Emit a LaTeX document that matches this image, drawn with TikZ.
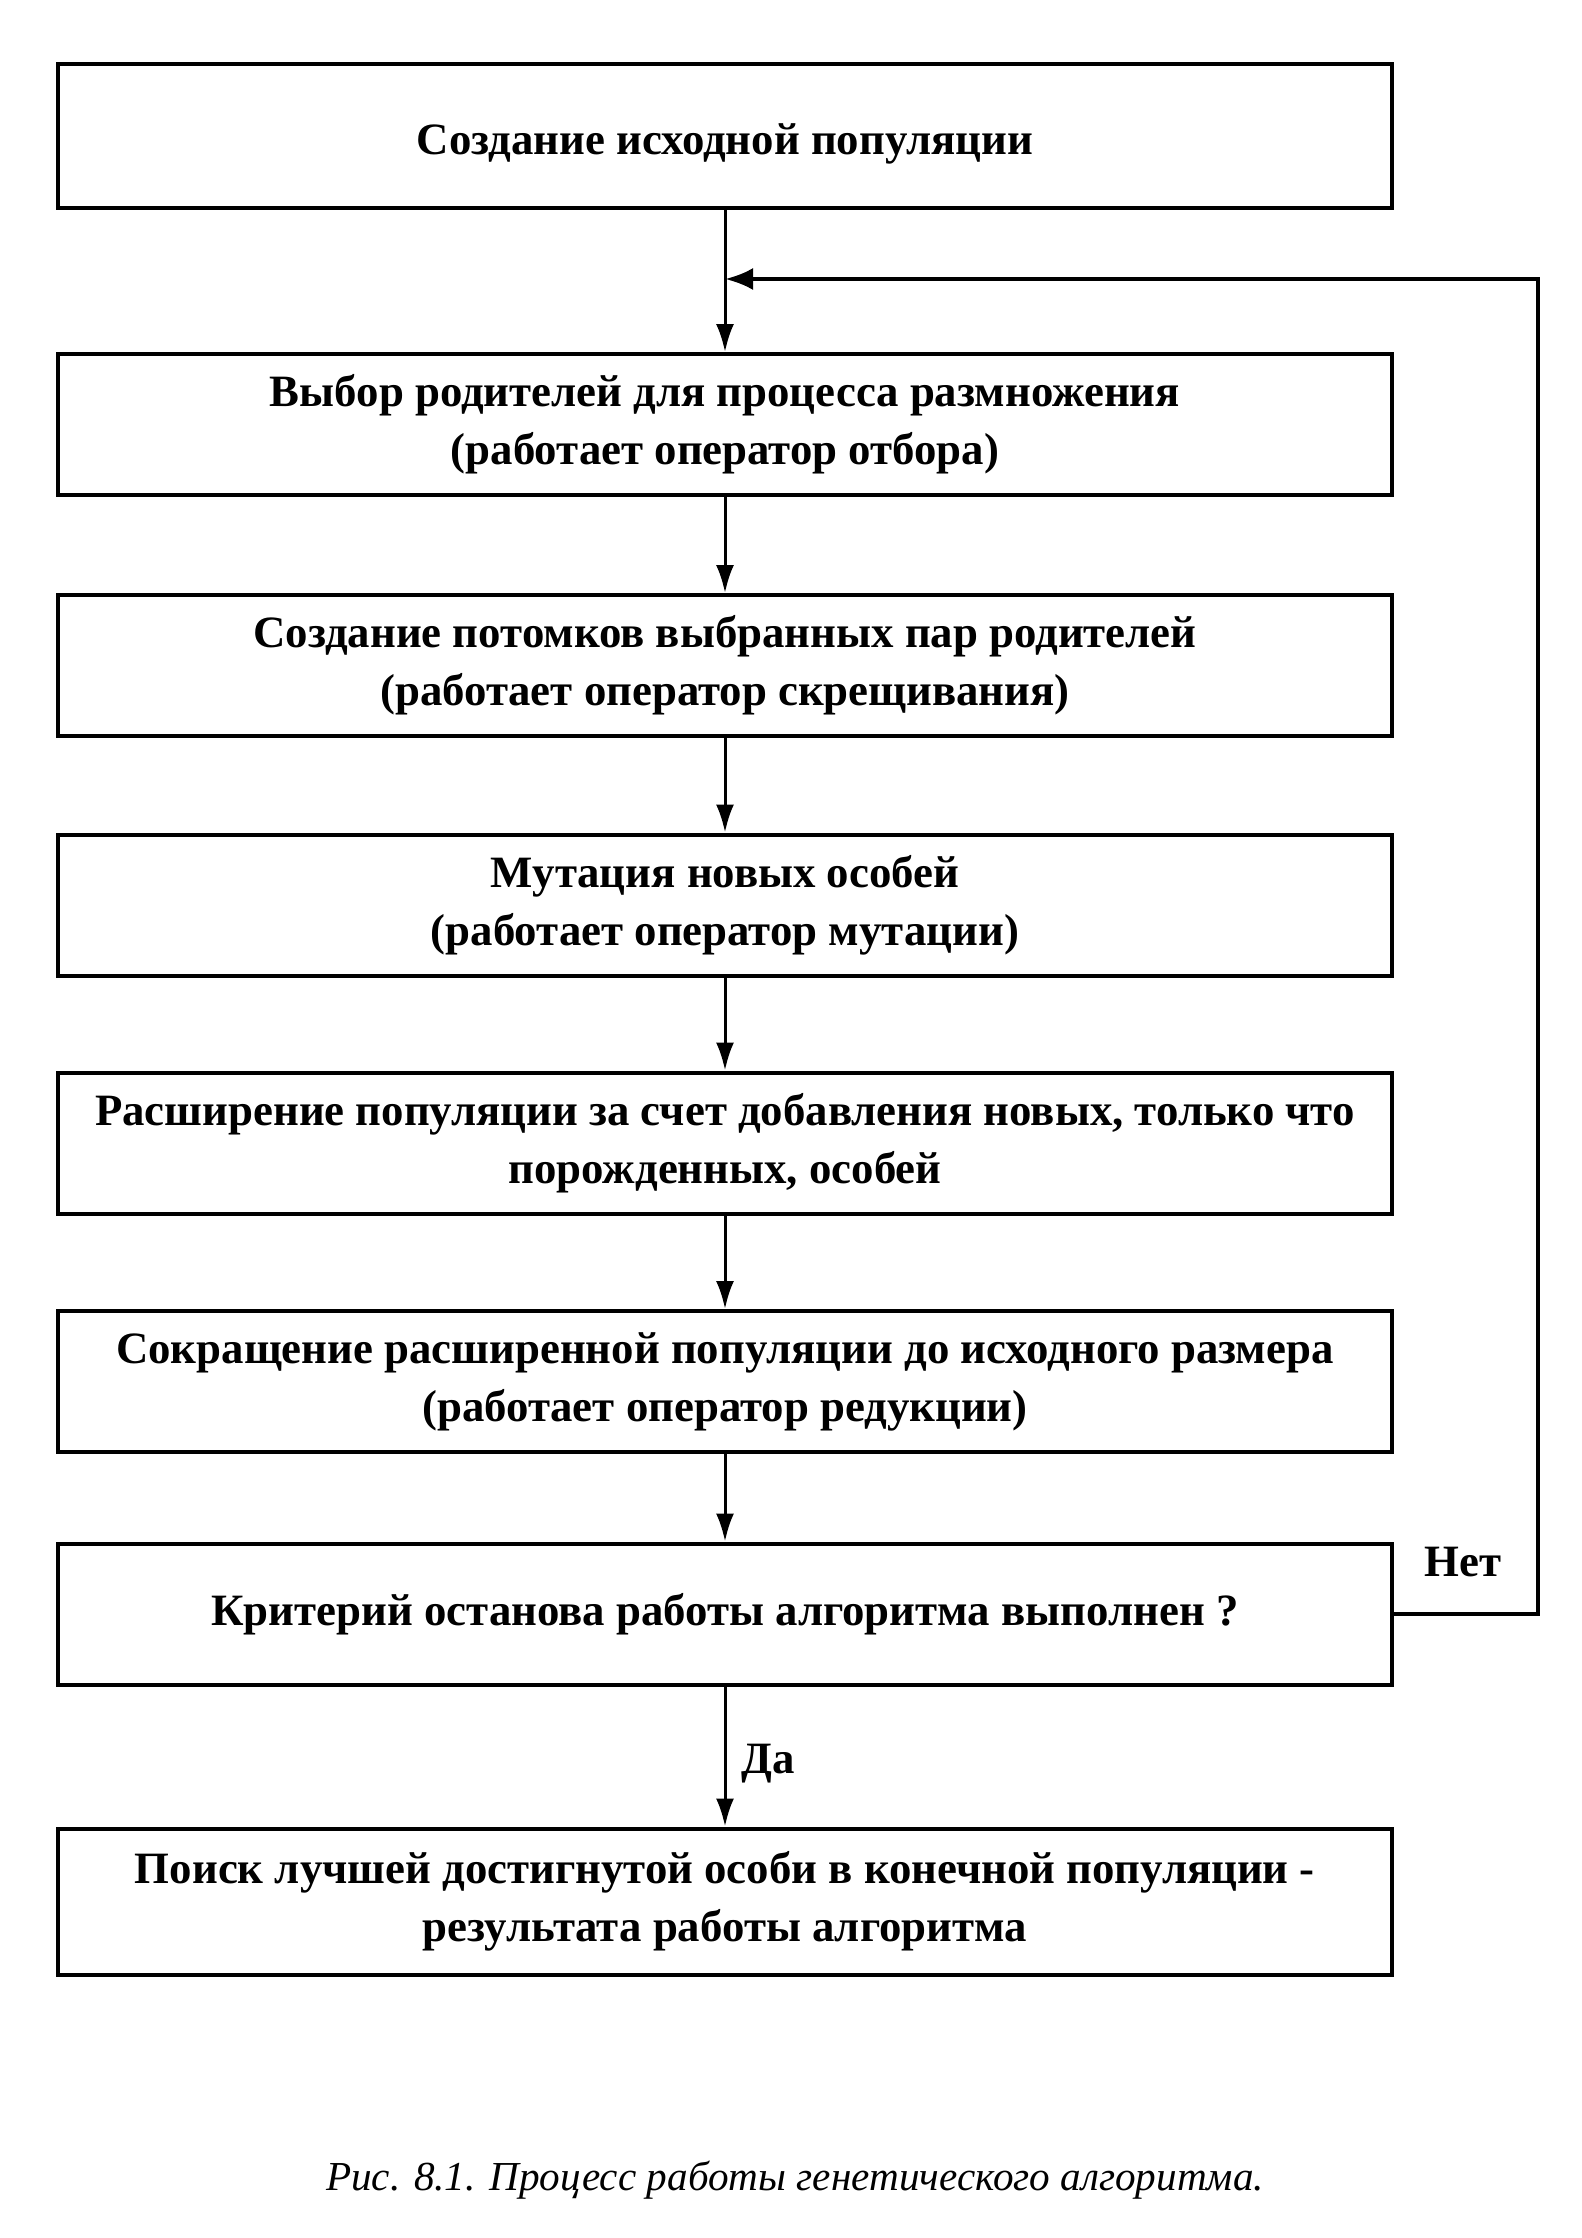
\documentclass[tikz,border=0pt]{standalone}
\usepackage{fontspec}
\setmainfont{Liberation Serif}
\usetikzlibrary{arrows.meta}
\begin{document}
\begin{tikzpicture}[x=0.5pt,y=-0.5pt,
  flowbox/.style={draw, line width=2pt, minimum width=667pt, minimum height=70.5pt,
    align=center, font=\bfseries\fontsize{22.4}{29}\selectfont, inner sep=0pt},
  flowarrow/.style={line width=1.5pt, -{Latex[length=14pt,width=9pt]}},
  looparrow/.style={line width=2pt, -{Latex[length=14pt,width=11pt]}},
  lbl/.style={font=\bfseries\fontsize{22.4}{29}\selectfont, inner sep=0pt}]
\useasboundingbox[fill=white] (0,0) rectangle (1581,2238);
\node[flowbox, minimum height=72pt, text height=20pt, text depth=2pt] (b1) at (725,136) {Создание исходной популяции};
\node[flowbox] (b2) at (725,424.5) {Выбор родителей для процесса размножения\\(работает оператор отбора)};
\node[flowbox] (b3) at (725,665.5) {Создание потомков выбранных пар родителей\\(работает оператор скрещивания)};
\node[flowbox] (b4) at (725,905) {Мутация новых особей\\(работает оператор мутации)};
\node[flowbox] (b5) at (725,1143) {Расширение популяции за счет добавления новых, только что\\порожденных, особей};
\node[flowbox] (b6) at (725,1381.5) {Сокращение расширенной популяции до исходного размера\\(работает оператор редукции)};
\node[flowbox] (b7) at (725,1614) {Критерий останова работы алгоритма выполнен ?};
\node[flowbox, minimum height=73pt] (b8) at (725,1901.5) {Поиск лучшей достигнутой особи в конечной популяции -\\результата работы алгоритма};
\coordinate (j) at (725,279);
\coordinate (c1) at (1538,1614);
\coordinate (c2) at (1538,279);
\draw[flowarrow] (b1) -- (b2);
\draw[flowarrow] (b2) -- (b3);
\draw[flowarrow] (b3) -- (b4);
\draw[flowarrow] (b4) -- (b5);
\draw[flowarrow] (b5) -- (b6);
\draw[flowarrow] (b6) -- (b7);
\draw[flowarrow] (b7) -- (b8);
\draw[looparrow] (b7.east) -- (c1) -- (c2) -- (j);
\node[lbl] (net) at (1463,1562) {Нет};
\node[lbl] (da) at (768,1764) {Да};
\node[font=\itshape\fontsize{20.6}{24}\selectfont, inner sep=0pt] (cap) at (795,2180) {Рис. 8.1. Процесс работы генетического алгоритма.};
\end{tikzpicture}
\end{document}
